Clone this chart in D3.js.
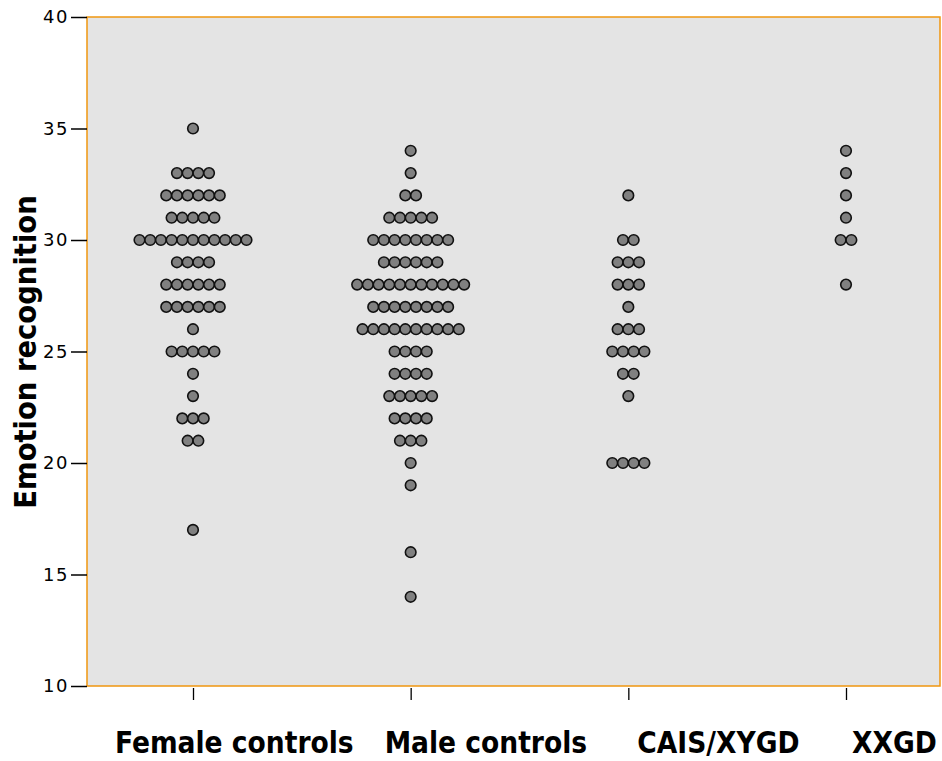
<!DOCTYPE html>
<html>
<head>
<meta charset="utf-8">
<script src="https://cdn.jsdelivr.net/npm/d3@7"></script>
<style>
  body { margin: 0; background: #fff; }
  svg { display: block; }
</style>
</head>
<body>
<div id="chart"></div>
<script>
const width = 942;
const height = 761;

// Groups and score counts (score -> number of participants)
const groups = ["Female controls", "Male controls", "CAIS/XYGD", "XXGD"];
const femaleCounts = [[35,1],[33,4],[32,6],[31,5],[30,11],[29,4],[28,6],[27,6],[26,1],[25,5],[24,1],[23,1],[22,3],[21,2],[17,1]];
const maleCounts = [[34,1],[33,1],[32,2],[31,5],[30,8],[29,6],[28,11],[27,8],[26,10],[25,4],[24,4],[23,5],[22,4],[21,3],[20,1],[19,1],[16,1],[14,1]];
const caisCounts = [[32,1],[30,2],[29,3],[28,3],[27,1],[26,3],[25,4],[24,2],[23,1],[20,4]];
const xxgdCounts = [[34,1],[33,1],[32,1],[31,1],[30,2],[28,1]];
const yTicks = [10, 15, 20, 25, 30, 35, 40];

const countsByGroup = [femaleCounts, maleCounts, caisCounts, xxgdCounts];

const svg = d3.select("#chart")
  .append("svg")
  .attr("width", width)
  .attr("height", height);

const plot = { left: 87, right: 940, top: 17, bottom: 686 };

const y = d3.scaleLinear().domain([10, 40]).range([plot.bottom, plot.top]);
const x = d3.scalePoint().domain(groups).range([193, 846]);

// background panel
svg.append("rect")
  .attr("x", plot.left)
  .attr("y", plot.top)
  .attr("width", plot.right - plot.left)
  .attr("height", plot.bottom - plot.top)
  .attr("fill", "#e4e4e4")
  .attr("stroke", "#f0960f")
  .attr("stroke-width", 1.5);

// y axis
const yAxis = svg.append("g")
  .attr("transform", `translate(${plot.left},0)`)
  .call(d3.axisLeft(y).tickValues(yTicks).tickSize(16).tickPadding(2));
yAxis.select(".domain").remove();
yAxis.selectAll("line").attr("stroke", "#000").attr("stroke-width", 1.5);
yAxis.selectAll("text")
  .attr("font-family", "DejaVu Sans")
  .attr("font-size", 18)
  .attr("letter-spacing", 1.5)
  .attr("fill", "#000");

// x axis ticks
const xAxis = svg.append("g")
  .attr("transform", `translate(0,${plot.bottom + 2})`)
  .call(d3.axisBottom(x).tickSize(12).tickFormat(""));
xAxis.select(".domain").remove();
xAxis.selectAll("line").attr("stroke", "#000").attr("stroke-width", 1.3);

// category labels (left-aligned relative to ticks as in the original)
const labelShift = [-78, -26, 9, 6];
svg.append("g")
  .selectAll("text")
  .data(groups)
  .enter()
  .append("text")
  .attr("x", (d, i) => x(d) + labelShift[i])
  .attr("y", 753)
  .attr("font-family", "DejaVu Sans Condensed, DejaVu Sans")
  .attr("font-weight", "bold")
  .attr("font-size", 29.5)
  .attr("fill", "#000")
  .text(d => d);

// y title
svg.append("text")
  .attr("transform", `translate(36,352) rotate(-90)`)
  .attr("text-anchor", "middle")
  .attr("font-family", "DejaVu Sans Condensed, DejaVu Sans")
  .attr("font-weight", "bold")
  .attr("font-size", 30.5)
  .attr("fill", "#000")
  .text("Emotion recognition");

// dots
const step = 10.7;
const dots = [];
countsByGroup.forEach((rows, gi) => {
  rows.forEach(([score, n]) => {
    for (let i = 0; i < n; i++) {
      dots.push({ group: groups[gi], score: score, offset: (i - (n - 1) / 2) * step });
    }
  });
});

svg.append("g")
  .selectAll("circle")
  .data(dots)
  .enter()
  .append("circle")
  .attr("cx", d => x(d.group) + d.offset)
  .attr("cy", d => y(d.score))
  .attr("r", 5.3)
  .attr("fill", "#808080")
  .attr("stroke", "#111")
  .attr("stroke-width", 1.6);
</script>
</body>
</html>
